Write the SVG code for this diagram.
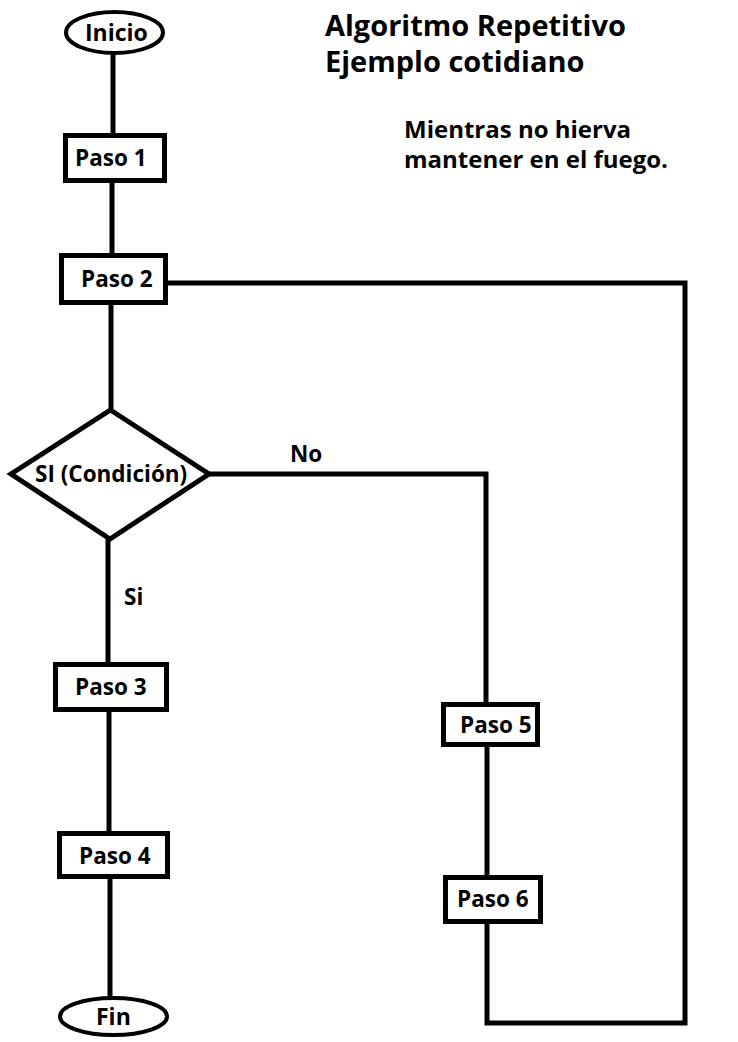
<svg xmlns="http://www.w3.org/2000/svg" width="738" height="1042" viewBox="0 0 738 1042">
<style>
.shape{fill:#fff;stroke:#000;stroke-width:5}
.term{fill:#fff;stroke:#000;stroke-width:4}
.conn{fill:none;stroke:#000;stroke-width:5;stroke-linejoin:miter;stroke-linecap:square}
text{font-family:"Open Sans","Liberation Sans",sans-serif;font-weight:700;fill:#000}
.lbl{font-size:22.5px}
.ttl{font-size:29px}
.note{font-size:24px}
.tm{font-size:23px}
</style>
<rect width="738" height="1042" fill="#fff"/>
<g id="connectors">
<path class="conn" d="M113 55V133"/>
<path class="conn" d="M112 183V253"/>
<path class="conn" d="M111 305V408"/>
<path class="conn" d="M108 541V662"/>
<path class="conn" d="M109 712V831"/>
<path class="conn" d="M110 879V997"/>
<path class="conn" d="M211 474H486V702"/>
<path class="conn" d="M487 747V875"/>
<path class="conn" d="M168 283H685V1023H487V924"/>
<text class="lbl" x="290" y="462">No</text>
<text class="lbl" x="124" y="605">Si</text>
</g>
<g id="inicio">
<ellipse class="term" cx="114.5" cy="32.5" rx="48.5" ry="20.5"/>
<text class="tm" x="85" y="41">Inicio</text>
</g>
<g id="paso1">
<rect class="shape" x="65.5" y="135.5" width="99" height="45"/>
<text class="lbl" x="75" y="166">Paso 1</text>
</g>
<g id="paso2">
<rect class="shape" x="61.5" y="255.5" width="104" height="47"/>
<text class="lbl" x="81" y="287">Paso 2</text>
</g>
<g id="condicion">
<polygon class="shape" points="110.5,410 209,474 110,539 11,474"/>
<text class="lbl" x="35" y="482">SI (Condición)</text>
</g>
<g id="paso3">
<rect class="shape" x="55.5" y="664.5" width="111" height="45"/>
<text class="lbl" x="75" y="695">Paso 3</text>
</g>
<g id="paso4">
<rect class="shape" x="59.5" y="833.5" width="108" height="43"/>
<text class="lbl" x="79" y="864">Paso 4</text>
</g>
<g id="fin">
<ellipse class="term" cx="113.5" cy="1016.5" rx="53.5" ry="18.5"/>
<text class="tm" x="96" y="1025">Fin</text>
</g>
<g id="paso5">
<rect class="shape" x="443.5" y="704.5" width="94" height="40"/>
<text class="lbl" x="460" y="733">Paso 5</text>
</g>
<g id="paso6">
<rect class="shape" x="445.5" y="877.5" width="95" height="44"/>
<text class="lbl" x="457" y="907">Paso 6</text>
</g>
<g id="titulo">
<text class="ttl" x="325" y="36">Algoritmo Repetitivo</text>
<text class="ttl" x="325" y="72">Ejemplo cotidiano</text>
</g>
<g id="nota">
<text class="note" x="404" y="138">Mientras no hierva</text>
<text class="note" x="404" y="168">mantener en el fuego.</text>
</g>
</svg>
